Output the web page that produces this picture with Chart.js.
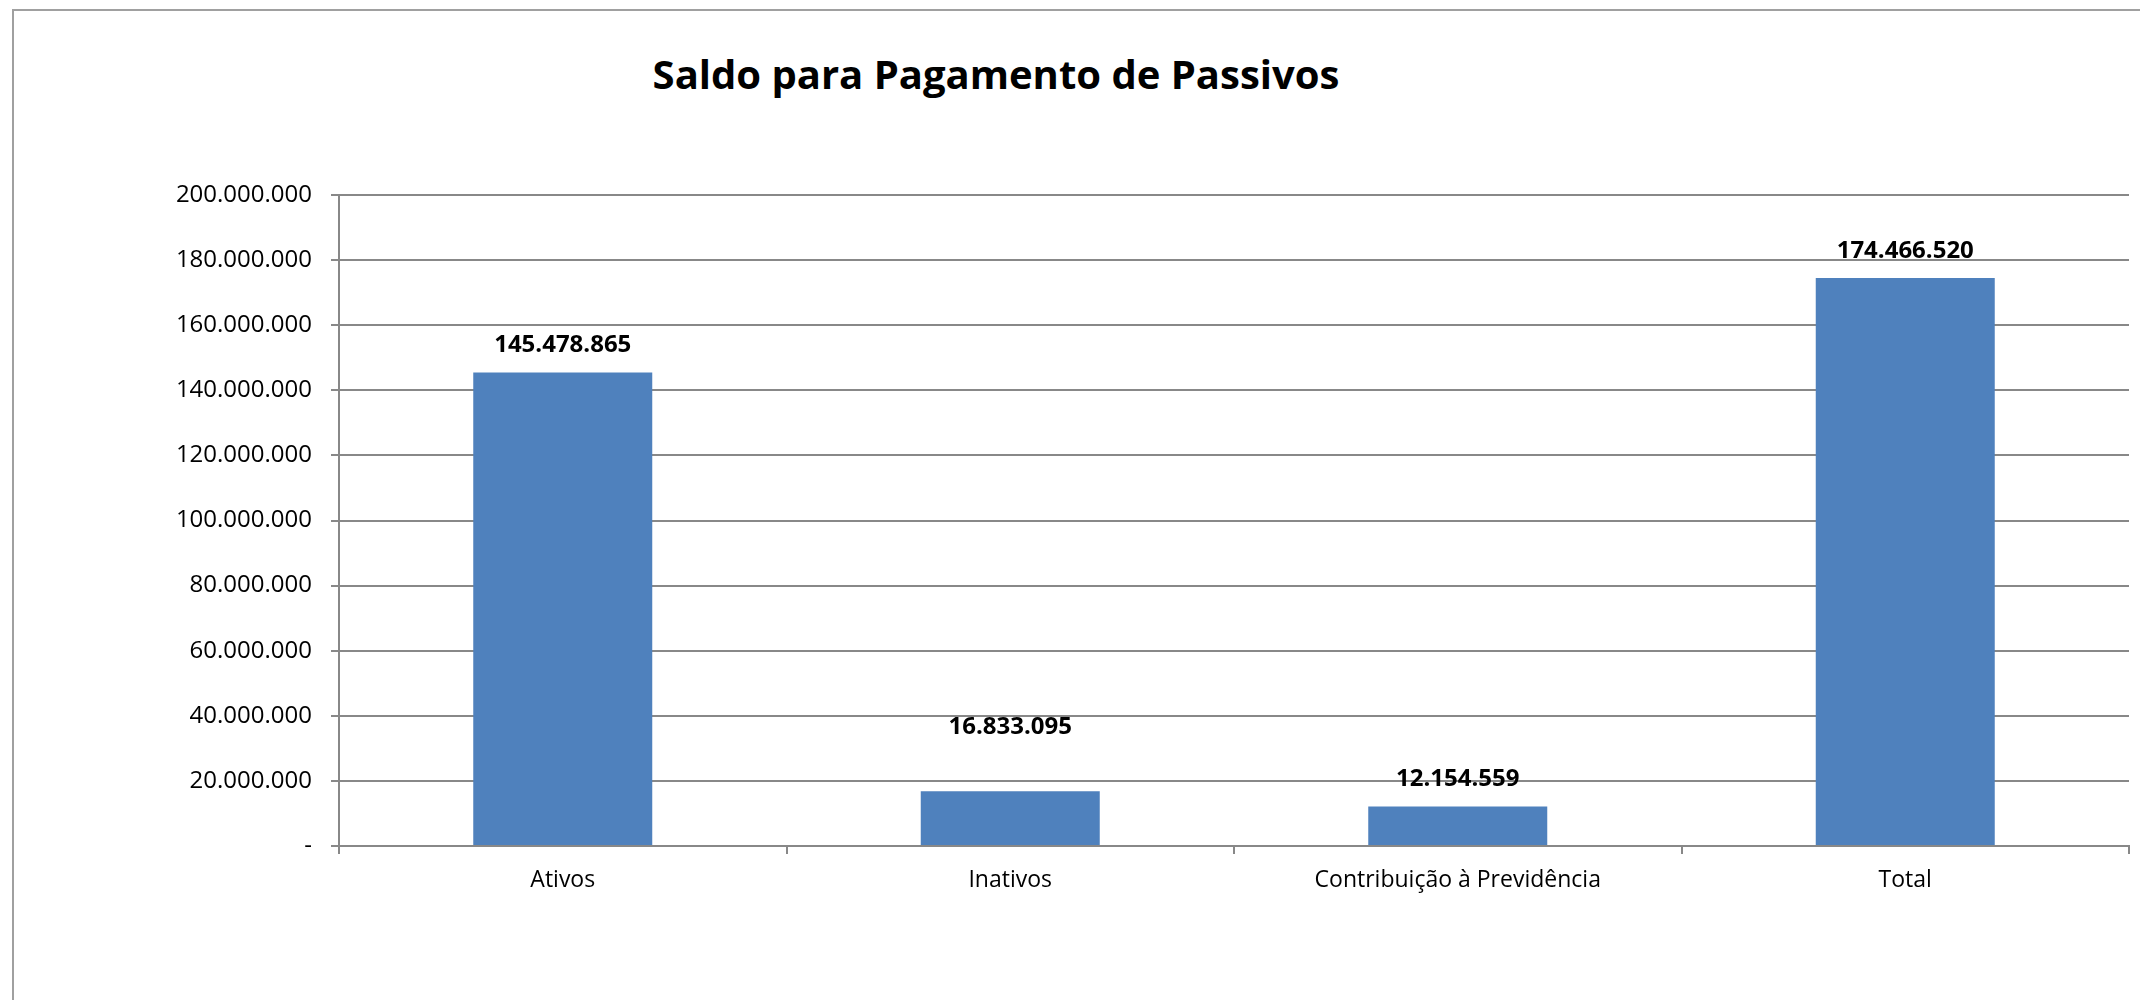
<!DOCTYPE html>
<html>
<head>
<meta charset="utf-8">
<script src="https://cdn.jsdelivr.net/npm/chart.js@4.4.0/dist/chart.umd.min.js"></script>
<style>
  html, body { margin: 0; padding: 0; background: #fff; }
  #wrap { position: relative; width: 2140px; height: 1000px; overflow: hidden; }
  #frame { position: absolute; left: 12px; top: 9px; width: 2200px; height: 1100px; border: 2px solid #a0a0a0; box-sizing: border-box; }
  #title { position: absolute; left: 0; top: 46px; width: 1992px; text-align: center;
           font-family: "Open Sans", sans-serif; font-weight: bold; font-size: 40px; color: #000; }
  canvas { position: absolute; left: 0; top: 0; }
</style>
</head>
<body>
<div id="wrap">
  <div id="frame"></div>
  <div id="title">Saldo para Pagamento de Passivos</div>
  <canvas id="myChart" width="2140" height="1000"></canvas>
</div>
<script>
const categories = ['Ativos', 'Inativos', 'Contribuição à Previdência', 'Total']
const saldo = [145478865, 16833095, 12154559, 174466520]
const yTicks = [0, 20000000, 40000000, 60000000, 80000000, 100000000, 120000000, 140000000, 160000000, 180000000, 200000000]

function fmt(v) {
    if (v === 0) return '-'
    return v.toString().replace(/\B(?=(\d{3})+(?!\d))/g, '.')
}

// value labels over the bars (Inativos label sits higher in the original)
const labelLift = [27, 64, 27, 27]
const valueLabels = {
    id: 'valueLabels',
    afterDatasetsDraw(chart) {
        const ctx = chart.ctx
        const meta = chart.getDatasetMeta(0)
        ctx.save()
        ctx.font = 'bold 24px "Open Sans", sans-serif'
        ctx.fillStyle = '#000'
        ctx.textAlign = 'center'
        ctx.textBaseline = 'middle'
        meta.data.forEach((bar, i) => {
            ctx.fillText(fmt(saldo[i]), bar.x, bar.y - labelLift[i])
        })
        ctx.restore()
    }
}

const chart = document.getElementById('myChart')
new Chart(chart, {
    type: 'bar',
    data: {
        labels: categories,
        datasets: [{
            label: 'Saldo',
            data: saldo,
            backgroundColor: '#4f81bd',
            barPercentage: 0.4,
            categoryPercentage: 1
        }]
    },
    options: {
        responsive: false,
        animation: false,
        layout: { padding: { left: 0, right: 11, top: 195, bottom: 94 } },
        plugins: {
            legend: { display: false },
            tooltip: { enabled: false }
        },
        scales: {
            x: {
                offset: true,
                afterFit: s => { s.height = 60 },
                grid: { offset: true, drawOnChartArea: false, drawTicks: true, tickLength: 8, color: '#888', lineWidth: 2 },
                border: { color: '#888', width: 2 },
                ticks: { color: '#000', padding: 13, font: { family: '"Open Sans", sans-serif', size: 23 } }
            },
            y: {
                min: 0,
                max: 200000000,
                afterFit: s => { s.width = 339 },
                afterBuildTicks: s => { s.ticks = yTicks.map(v => ({ value: v })) },
                grid: { color: '#888', lineWidth: 2, tickLength: 8 },
                border: { color: '#888', width: 2 },
                ticks: {
                    color: '#000',
                    padding: 19,
                    font: { family: '"Open Sans", sans-serif', size: 24 },
                    callback: v => fmt(v)
                }
            }
        }
    },
    plugins: [valueLabels]
})
</script>
</body>
</html>
